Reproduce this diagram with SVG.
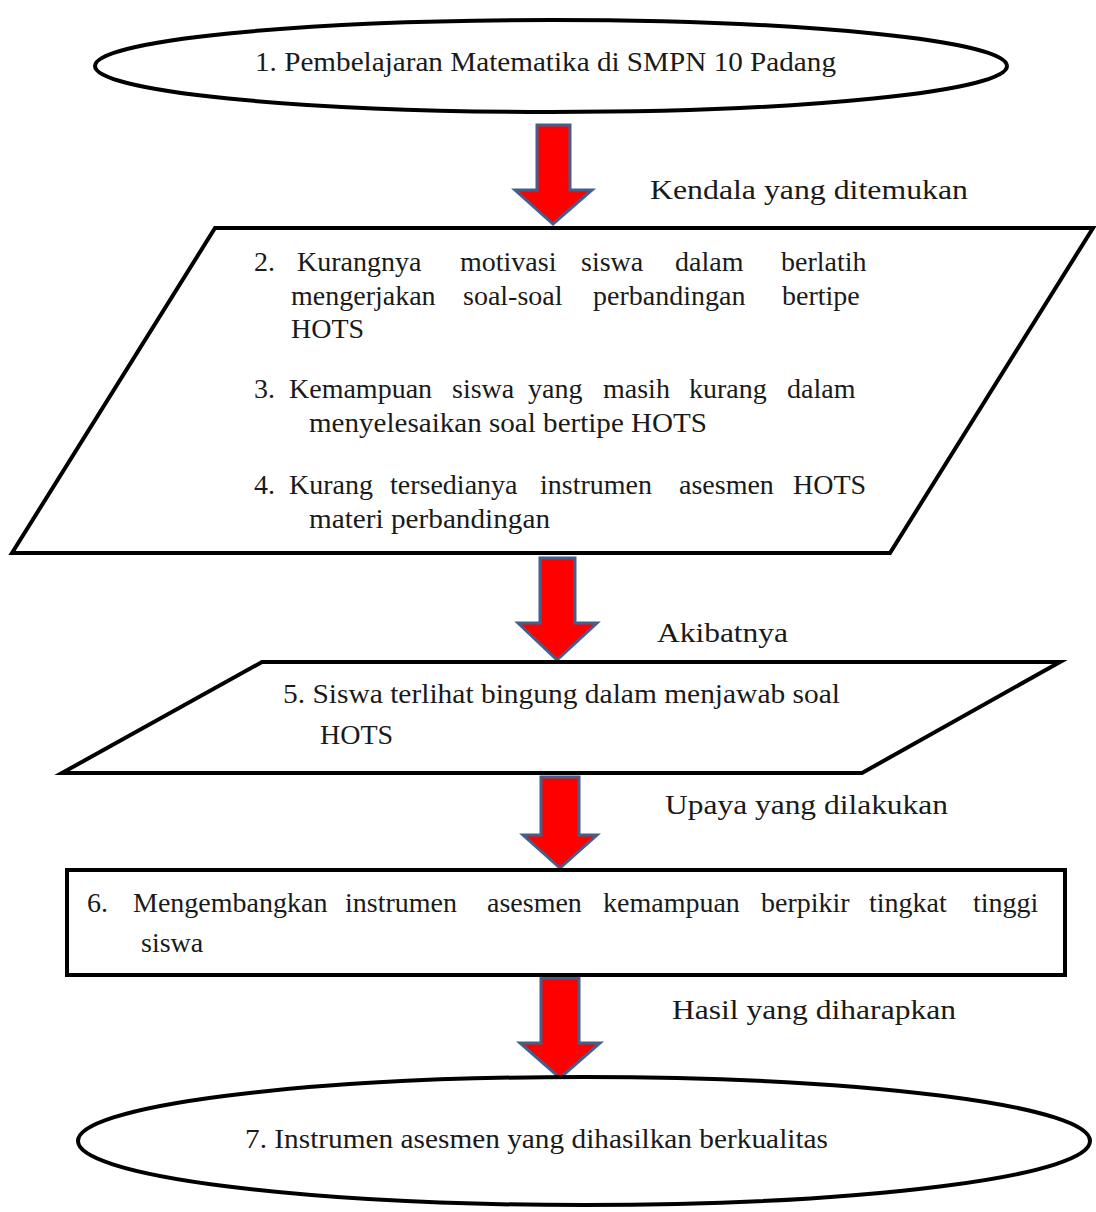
<svg xmlns="http://www.w3.org/2000/svg" width="1096" height="1212" viewBox="0 0 1096 1212">
<style>
.shape{fill:#fff;stroke:#000;stroke-width:4}
.arr{fill:#ff0000;stroke:#43608c;stroke-width:3;stroke-linejoin:miter}
.t{font-family:'Liberation Serif',serif;font-size:28px;fill:#1a1a1a}
</style>
<rect width="1096" height="1212" fill="#fff"/>
<g id="connectors">
<path class="arr" d="M537,125 L570,125 L570,190 L592,190 L553,224 L515,190 L537,190 Z"/>
<path class="arr" d="M540,558 L575,558 L575,623 L597,623 L557,660 L518,623 L540,623 Z"/>
<path class="arr" d="M541,777 L579,777 L579,835 L597,835 L560,868 L523,835 L541,835 Z"/>
<path class="arr" d="M541,978 L579,978 L579,1043 L600,1043 L560,1078 L520,1043 L541,1043 Z"/>
<text class="t" x="650" y="199" textLength="318" lengthAdjust="spacingAndGlyphs">Kendala yang ditemukan</text>
<text class="t" x="657" y="642" textLength="131" lengthAdjust="spacingAndGlyphs">Akibatnya</text>
<text class="t" x="665" y="814" textLength="283" lengthAdjust="spacingAndGlyphs">Upaya yang dilakukan</text>
<text class="t" x="672" y="1019" textLength="284" lengthAdjust="spacingAndGlyphs">Hasil yang diharapkan</text>
</g>
<g id="node1">
<ellipse class="shape" cx="551" cy="66" rx="456" ry="46"/>
<text class="t" x="255" y="71" textLength="581" lengthAdjust="spacingAndGlyphs">1. Pembelajaran Matematika di SMPN 10 Padang</text>
</g>
<g id="node2">
<polygon class="shape" points="215,228 1093,228 890,553 12,553"/>
<text class="t" y="271"><tspan x="254">2.</tspan><tspan x="297">Kurangnya</tspan><tspan x="460">motivasi</tspan><tspan x="581">siswa</tspan><tspan x="675">dalam</tspan><tspan x="781">berlatih</tspan></text>
<text class="t" y="305"><tspan x="291">mengerjakan</tspan><tspan x="463">soal-soal</tspan><tspan x="593">perbandingan</tspan><tspan x="782">bertipe</tspan></text>
<text class="t" x="291" y="338">HOTS</text>
<text class="t" y="398"><tspan x="254">3.</tspan><tspan x="289">Kemampuan</tspan><tspan x="452">siswa</tspan><tspan x="528">yang</tspan><tspan x="603">masih</tspan><tspan x="689">kurang</tspan><tspan x="787">dalam</tspan></text>
<text class="t" x="309" y="432" textLength="398" lengthAdjust="spacingAndGlyphs">menyelesaikan soal bertipe HOTS</text>
<text class="t" y="494"><tspan x="254">4.</tspan><tspan x="289">Kurang</tspan><tspan x="390">tersedianya</tspan><tspan x="540">instrumen</tspan><tspan x="679">asesmen</tspan><tspan x="793">HOTS</tspan></text>
<text class="t" x="309" y="528" textLength="241" lengthAdjust="spacingAndGlyphs">materi perbandingan</text>
</g>
<g id="node5">
<polygon class="shape" points="262,662 1060,662 862,773 62,773"/>
<text class="t" x="283" y="703" textLength="557" lengthAdjust="spacingAndGlyphs">5. Siswa terlihat bingung dalam menjawab soal</text>
<text class="t" x="320" y="744">HOTS</text>
</g>
<g id="node6">
<rect class="shape" x="67" y="870" width="998" height="105"/>
<text class="t" y="912"><tspan x="87">6.</tspan><tspan x="133">Mengembangkan</tspan><tspan x="345">instrumen</tspan><tspan x="487">asesmen</tspan><tspan x="603">kemampuan</tspan><tspan x="761">berpikir</tspan><tspan x="869">tingkat</tspan><tspan x="973">tinggi</tspan></text>
<text class="t" x="141" y="952">siswa</text>
</g>
<g id="node7">
<ellipse class="shape" cx="584" cy="1141" rx="506" ry="64"/>
<text class="t" x="245" y="1148" textLength="583" lengthAdjust="spacingAndGlyphs">7. Instrumen asesmen yang dihasilkan berkualitas</text>
</g>
</svg>
